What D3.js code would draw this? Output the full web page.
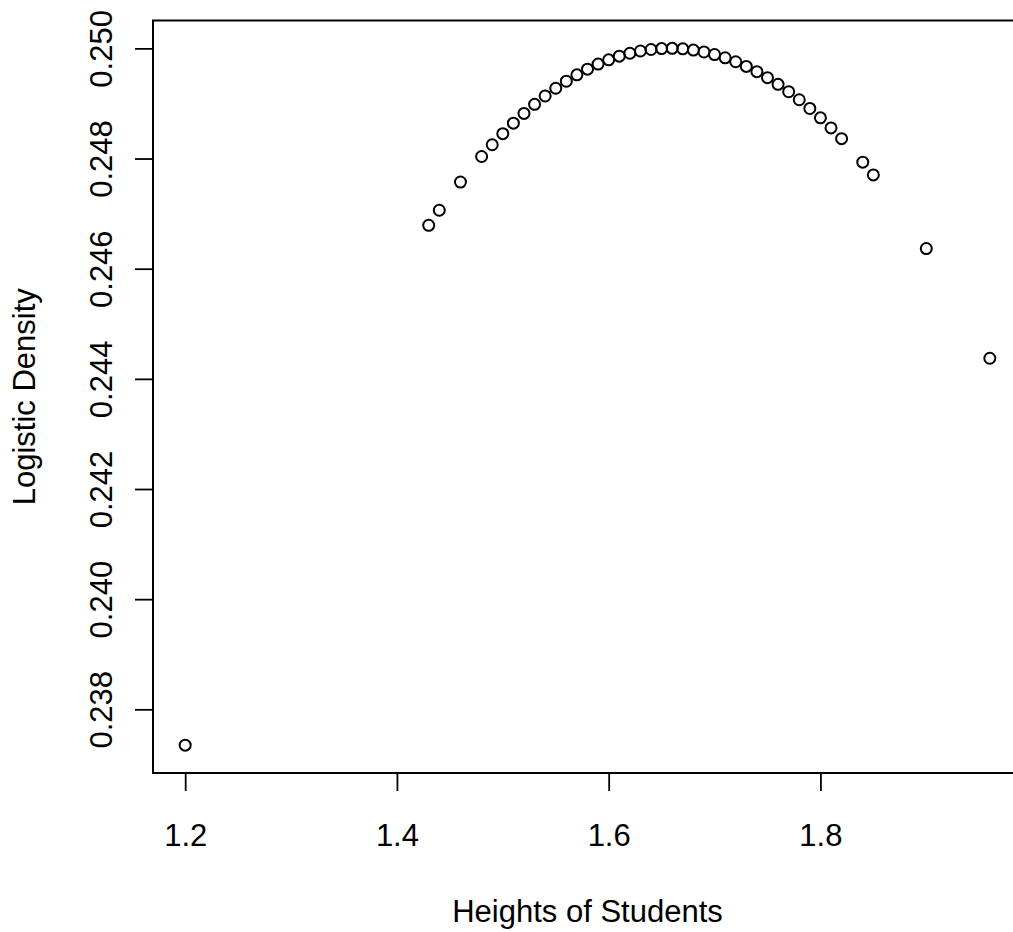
<!DOCTYPE html>
<html>
<head>
<meta charset="utf-8">
<script src="https://cdn.jsdelivr.net/npm/d3@7"></script>
<style>
  body { margin: 0; background: #fff; }
  svg { display: block; }
  text { font-family: "Liberation Sans", Arial, sans-serif; fill: #000; }
</style>
</head>
<body>
<div id="chart"></div>
<script>
const FRAME_WIDTH = 1013;
const FRAME_HEIGHT = 932;
// plot region, right side runs off the picture like the original
const PLOT = {left: 153, right: 1022, top: 20.5, bottom: 773};

// heights of students (x) and logistic density (y)
const heights = [1.20, 1.43, 1.44, 1.46, 1.48, 1.49, 1.50, 1.51, 1.52, 1.53,
    1.54, 1.55, 1.56, 1.57, 1.58, 1.59, 1.60, 1.61, 1.62, 1.63,
    1.64, 1.65, 1.66, 1.67, 1.68, 1.69, 1.70, 1.71, 1.72, 1.73,
    1.74, 1.75, 1.76, 1.77, 1.78, 1.79, 1.80, 1.81, 1.82, 1.84,
    1.85, 1.90, 1.96];
const density = [0.237350, 0.246788, 0.247061, 0.247573, 0.248037, 0.248250, 0.248452, 0.248642, 0.248819, 0.248984,
    0.249136, 0.249276, 0.249404, 0.249520, 0.249623, 0.249714, 0.249792, 0.249858, 0.249911, 0.249952,
    0.249980, 0.249996, 0.250000, 0.249991, 0.249969, 0.249935, 0.249888, 0.249829, 0.249757, 0.249673,
    0.249577, 0.249468, 0.249347, 0.249213, 0.249067, 0.248909, 0.248739, 0.248556, 0.248361, 0.247934,
    0.247703, 0.246366, 0.244374];

const x_ticks = [1.2, 1.4, 1.6, 1.8];
const y_ticks = [0.238, 0.240, 0.242, 0.244, 0.246, 0.248, 0.250];

const data = heights.map((h, i) => ({x: h, y: density[i]}));

const SVG = d3.select("#chart")
    .append("svg")
    .attr("width", FRAME_WIDTH)
    .attr("height", FRAME_HEIGHT);

// R style 4% padding around the data range
const x_ext = d3.extent(heights);
const y_ext = d3.extent(density);
const x_pad = (x_ext[1] - x_ext[0]) * 0.04;
const y_pad = (y_ext[1] - y_ext[0]) * 0.04;

const x = d3.scaleLinear()
    .domain([x_ext[0] - x_pad, x_ext[1] + x_pad])
    .range([PLOT.left, PLOT.right]);
const y = d3.scaleLinear()
    .domain([y_ext[0] - y_pad, y_ext[1] + y_pad])
    .range([PLOT.bottom, PLOT.top]);

// box
SVG.append("rect")
    .attr("x", PLOT.left)
    .attr("y", PLOT.top)
    .attr("width", PLOT.right - PLOT.left)
    .attr("height", PLOT.bottom - PLOT.top)
    .attr("fill", "none")
    .attr("stroke", "#000")
    .attr("stroke-width", 2);

// x axis
const x_axis = SVG.append("g")
    .attr("transform", "translate(0," + PLOT.bottom + ")")
    .call(d3.axisBottom(x).tickValues(x_ticks).tickSize(18).tickFormat(d3.format(".1f")));
x_axis.select(".domain").remove();
x_axis.selectAll("line").attr("stroke", "#000").attr("stroke-width", 1.8);
x_axis.selectAll("text")
    .attr("y", 73)
    .attr("dy", 0)
    .style("font-size", "31px");

// y axis, labels parallel to the axis
const y_axis = SVG.append("g")
    .attr("transform", "translate(" + PLOT.left + ",0)")
    .call(d3.axisLeft(y).tickValues(y_ticks).tickSize(18).tickFormat(d3.format(".3f")));
y_axis.select(".domain").remove();
y_axis.selectAll("line").attr("stroke", "#000").attr("stroke-width", 1.8);
y_axis.selectAll("text")
    .attr("x", 0)
    .attr("y", -41)
    .attr("dy", 0)
    .attr("transform", "rotate(-90)")
    .attr("text-anchor", "middle")
    .style("font-size", "31px");

// axis titles
SVG.append("text")
    .attr("x", (PLOT.left + PLOT.right) / 2)
    .attr("y", 922)
    .attr("text-anchor", "middle")
    .style("font-size", "31px")
    .text("Heights of Students");

SVG.append("text")
    .attr("transform", "translate(35," + ((PLOT.top + PLOT.bottom) / 2) + ") rotate(-90)")
    .attr("text-anchor", "middle")
    .style("font-size", "31px")
    .text("Logistic Density");

// points
SVG.append("g")
    .selectAll("circle")
    .data(data)
    .enter()
    .append("circle")
    .attr("cx", (d) => x(d.x))
    .attr("cy", (d) => y(d.y))
    .attr("r", 5.5)
    .attr("fill", "none")
    .attr("stroke", "#000")
    .attr("stroke-width", 2);
</script>
</body>
</html>
